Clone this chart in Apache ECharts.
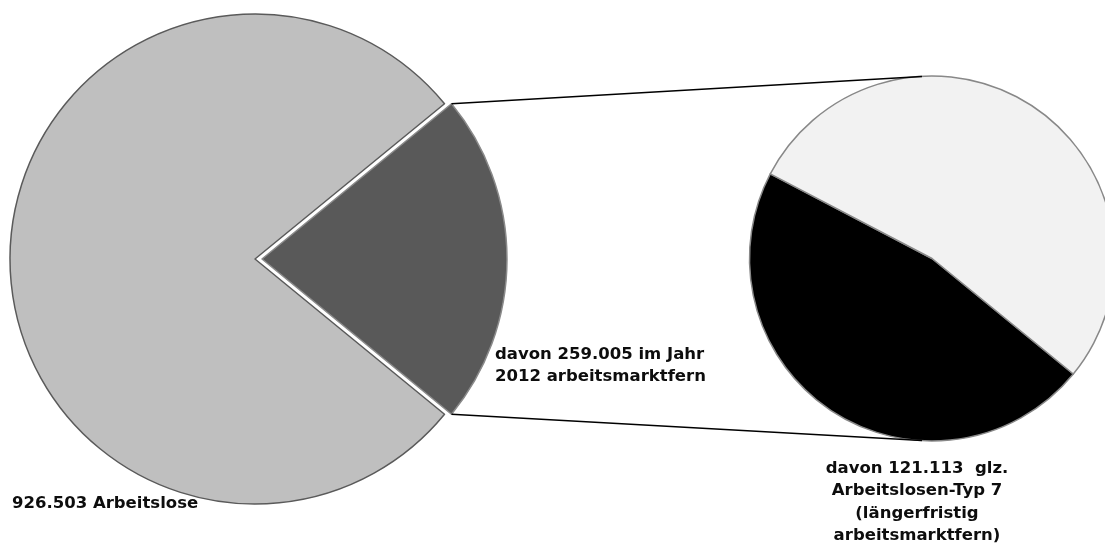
<!DOCTYPE html>
<html>
<head>
<meta charset="utf-8">
<script src="https://cdn.jsdelivr.net/npm/echarts@6/dist/echarts.min.js"></script>
<style>
  html, body { margin: 0; padding: 0; background: #fff; }
  #chart { width: 1105px; height: 549px; }
</style>
</head>
<body>
<div id="chart"></div>
<script>
// Overview pie: all unemployed, split off the group far from the labour market (2012)
const overviewNames = ['arbeitsmarktfern 2012', 'Arbeitslose'];
const overviewValues = [259005, 926503];

// Detail pie: breakdown of the far-from-market group
const detailNames = ['glz. Arbeitslosen-Typ 7', 'übrige arbeitsmarktfern'];
const detailValues = [121113, 137892];

const fmt = n => String(n).replace(/\B(?=(\d{3})+(?!\d))/g, '.');

const labelTexts = [
  fmt(overviewValues[1]) + ' Arbeitslose',
  'davon ' + fmt(overviewValues[0]) + ' im Jahr\n2012 arbeitsmarktfern',
  'davon ' + fmt(detailValues[0]) + '  glz.\nArbeitslosen-Typ 7\n(längerfristig\narbeitsmarktfern)'
];

// layout
const C1 = [255, 259], R1 = 245, OFFSET = 7;
const C2 = [932, 258.5], R2 = 182.5;

const sum = a => a.reduce((s, v) => s + v, 0);
// the split-off slice is centred on the right-hand side
const halfAngle = overviewValues[0] / sum(overviewValues) * 180;
// detail pie: the light slice ends at the upper left (152.4°), the dark one starts where it ends
const detailStart = 152.4 - detailValues[1] / sum(detailValues) * 360;

const rad = halfAngle * Math.PI / 180;
const cornerTop = [C1[0] + OFFSET + R1 * Math.cos(rad), C1[1] - R1 * Math.sin(rad)];
const cornerBot = [C1[0] + OFFSET + R1 * Math.cos(rad), C1[1] + R1 * Math.sin(rad)];
const detTop = [C2[0] - 10, C2[1] - R2 + 0.5];
const detBot = [C2[0] - 10, C2[1] + R2 - 0.5];

const FONT = '"DejaVu Sans", sans-serif';
const textStyle = { fill: '#0d0d0d', font: 'bold 16.5px ' + FONT, lineHeight: 22.5 };

const chart = echarts.init(document.getElementById('chart'), null, { renderer: 'canvas' });
chart.setOption({
  animation: false,
  backgroundColor: '#fff',
  series: [
    {
      type: 'pie',
      center: C1,
      radius: R1,
      startAngle: halfAngle,
      clockwise: true,
      selectedMode: 'single',
      selectedOffset: OFFSET,
      label: { show: false },
      labelLine: { show: false },
      emphasis: { disabled: true },
      select: { itemStyle: { borderColor: '#8a8a8a', borderWidth: 1.5 } },
      itemStyle: { borderColor: '#5a5a5a', borderWidth: 1.5 },
      data: overviewValues.map((v, i) => ({
        name: overviewNames[i],
        value: v,
        selected: i === 0,
        itemStyle: { color: i === 0 ? '#595959' : '#bfbfbf', borderColor: i === 0 ? '#8a8a8a' : '#5a5a5a' }
      }))
    },
    {
      type: 'pie',
      center: C2,
      radius: R2,
      startAngle: detailStart,
      clockwise: true,
      label: { show: false },
      labelLine: { show: false },
      emphasis: { disabled: true },
      itemStyle: { borderColor: '#888', borderWidth: 1.5 },
      data: detailValues.map((v, i) => ({
        name: detailNames[i],
        value: v,
        itemStyle: { color: i === 0 ? '#000000' : '#f2f2f2' }
      }))
    }
  ],
  graphic: [
    { type: 'line', z: 10, shape: { x1: cornerTop[0], y1: cornerTop[1], x2: detTop[0], y2: detTop[1] }, style: { stroke: '#000', lineWidth: 1.5 } },
    { type: 'line', z: 10, shape: { x1: cornerBot[0], y1: cornerBot[1], x2: detBot[0], y2: detBot[1] }, style: { stroke: '#000', lineWidth: 1.5 } },
    { type: 'text', z: 20, left: 12, top: 492, style: Object.assign({ text: labelTexts[0] }, textStyle) },
    { type: 'text', z: 20, left: 495, top: 343, style: Object.assign({ text: labelTexts[1] }, textStyle) },
    { type: 'text', z: 20, x: 917, y: 457, style: Object.assign({ text: labelTexts[2], align: 'center' }, textStyle) }
  ]
});
</script>
</body>
</html>
